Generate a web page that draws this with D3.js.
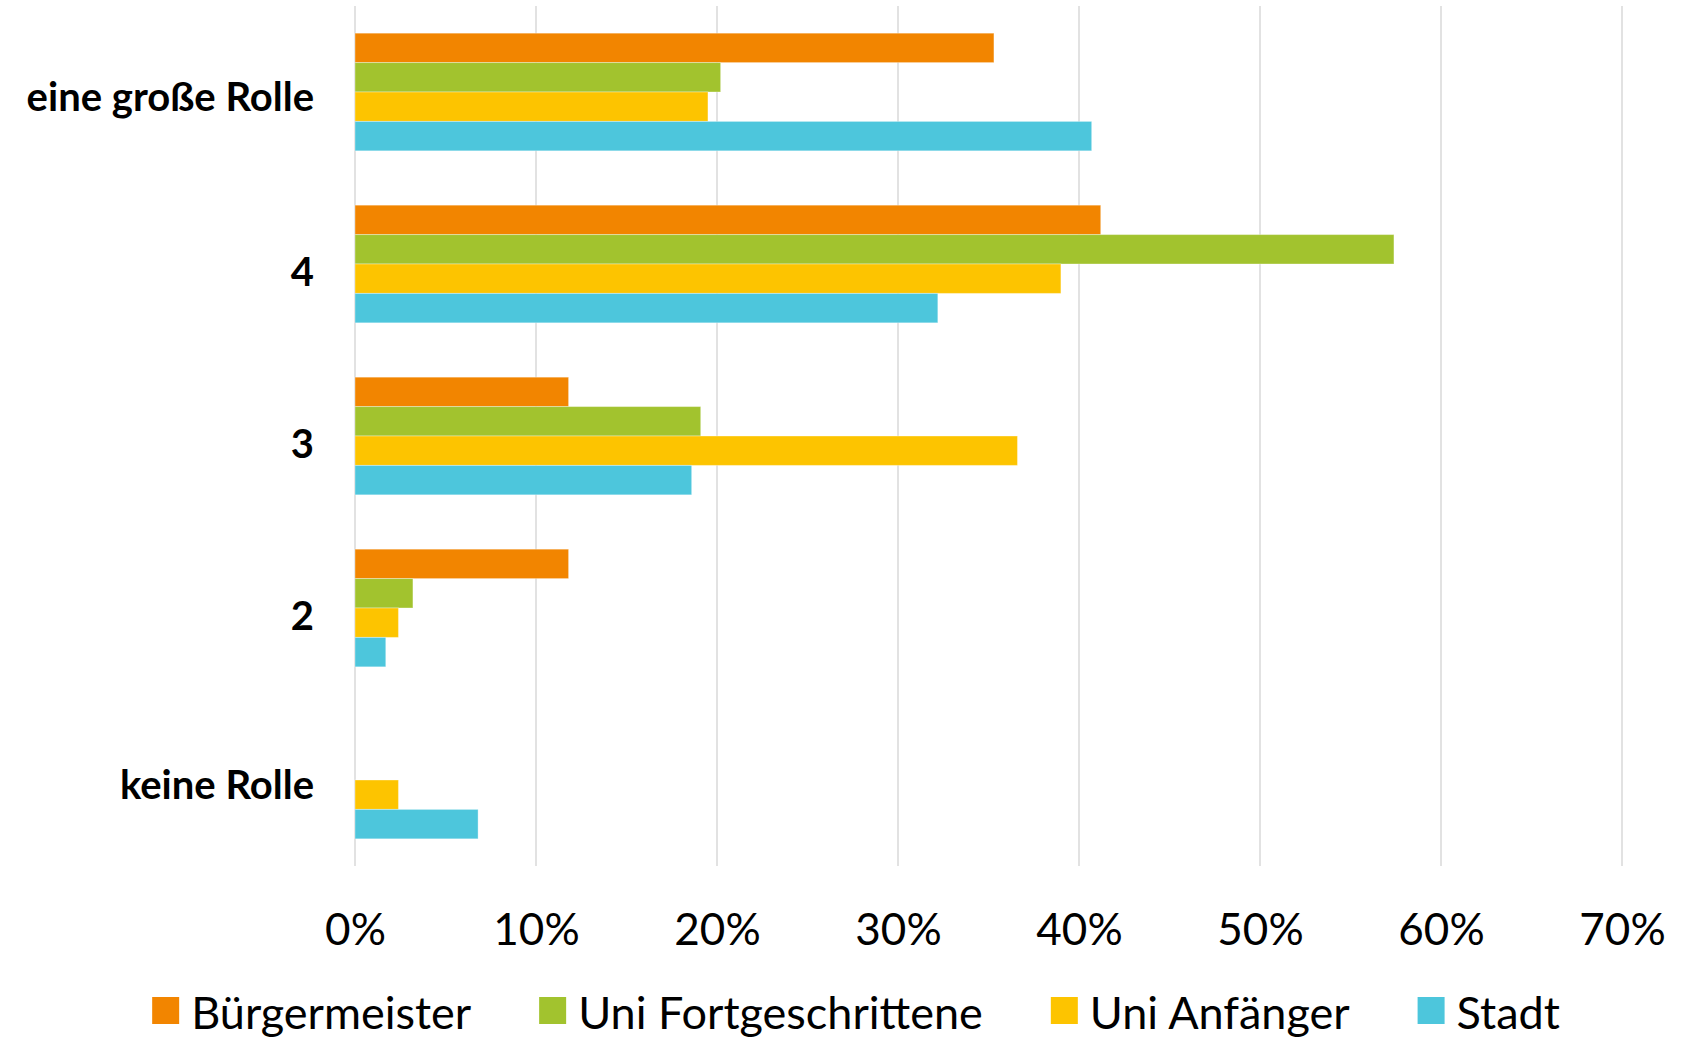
<!DOCTYPE html>
<html>
<head>
<meta charset="utf-8">
<script src="https://cdn.jsdelivr.net/npm/d3@7"></script>
<style>
  body { margin: 0; background: #fff; }
  text { font-family: Lato, "Open Sans", sans-serif; fill: #000; }
</style>
</head>
<body>
<div id="chart"></div>
<script>
// categories (top to bottom) and series
var categories = ["eine große Rolle", "4", "3", "2", "keine Rolle"];
var seriesNames = ["Bürgermeister", "Uni Fortgeschrittene", "Uni Anfänger", "Stadt"];
var seriesColors = ["#F28500", "#A2C32E", "#FDC400", "#4DC6DC"];

// percent values per series, same order as categories
var buergermeister = [35.3, 41.2, 11.8, 11.8, 0];
var uniFortgeschrittene = [20.2, 57.4, 19.1, 3.2, 0];
var uniAnfaenger = [19.5, 39.0, 36.6, 2.4, 2.4];
var stadt = [40.7, 32.2, 18.6, 1.7, 6.8];

var xTicks = [0, 10, 20, 30, 40, 50, 60, 70];

var width = 1694, height = 1042;
var margin = { top: 6, right: 72, bottom: 176, left: 355 };

var svg = d3.select("#chart")
    .append("svg")
    .attr("width", width)
    .attr("height", height);

var g = svg.append("g")
    .attr("transform", "translate(" + margin.left + "," + margin.top + ")");

var w = width - margin.left - margin.right;
var h = height - margin.top - margin.bottom;

var allSeries = [buergermeister, uniFortgeschrittene, uniAnfaenger, stadt];
var data = categories.map(function (c, i) {
    return { cat: c, values: allSeries.map(function (s, j) { return { key: seriesNames[j], value: s[i] }; }) };
});

var x = d3.scaleLinear().domain([0, 70]).range([0, w]);

var y0 = d3.scaleBand()
    .domain(categories)
    .range([0, h])
    .paddingInner(0.316)
    .paddingOuter(0.158);

var y1 = d3.scaleBand()
    .domain(seriesNames)
    .range([0, y0.bandwidth()]);

var color = d3.scaleOrdinal().domain(seriesNames).range(seriesColors);

// vertical gridlines
g.append("g")
    .selectAll("line")
    .data(xTicks)
    .enter().append("line")
    .attr("x1", function (d) { return x(d); })
    .attr("x2", function (d) { return x(d); })
    .attr("y1", 0)
    .attr("y2", h)
    .style("stroke", "#d9d9d9")
    .style("stroke-width", 1.5);

// bars
var groups = g.selectAll(".grp")
    .data(data)
    .enter().append("g")
    .attr("class", "grp")
    .attr("transform", function (d) { return "translate(0," + y0(d.cat) + ")"; });

groups.selectAll("rect")
    .data(function (d) { return d.values.filter(function (v) { return v.value > 0; }); })
    .enter().append("rect")
    .attr("x", x(0))
    .attr("y", function (d) { return y1(d.key); })
    .attr("width", function (d) { return x(d.value) - x(0); })
    .attr("height", y1.bandwidth())
    .style("fill", function (d) { return color(d.key); })
    .style("stroke", "#fff")
    .style("stroke-opacity", 0.35)
    .style("stroke-width", 1);

// x axis labels
var xAxis = g.append("g")
    .attr("transform", "translate(0," + h + ")")
    .call(d3.axisBottom(x).tickValues(xTicks).tickSize(0).tickPadding(0)
        .tickFormat(function (d) { return d + "%"; }));
xAxis.select(".domain").remove();
xAxis.selectAll("text")
    .attr("y", 79)
    .attr("dy", 0)
    .style("font-size", "44px")
    .style("font-family", "Lato, sans-serif")
    .style("fill", "#000");

// category labels
var yAxis = g.append("g")
    .call(d3.axisLeft(y0).tickSize(0).tickPadding(41));
yAxis.select(".domain").remove();
yAxis.selectAll("text")
    .attr("dy", function (d) { return (d.length === 1 ? 22 : 19); })
    .style("font-size", "40px")
    .style("font-weight", "bold")
    .style("font-family", "Lato, sans-serif")
    .style("fill", "#000");

// legend
var legend = svg.append("g").attr("class", "legend");
var items = legend.selectAll(".item")
    .data(seriesNames)
    .enter().append("g")
    .attr("class", "item");

items.append("rect")
    .attr("width", 27)
    .attr("height", 27)
    .attr("y", 997)
    .style("fill", function (d) { return color(d); });

items.append("text")
    .attr("x", 39)
    .attr("y", 1029)
    .style("font-size", "45px")
    .text(function (d) { return d; });

var widths = [];
items.select("text").each(function () { widths.push(39 + this.getComputedTextLength()); });
var gap = 68;
var total = d3.sum(widths) + gap * (widths.length - 1);
var start = 856 - total / 2;
var pos = 0;
items.attr("transform", function (d, i) {
    var t = "translate(" + (start + pos) + ",0)";
    pos += widths[i] + gap;
    return t;
});
</script>
</body>
</html>
